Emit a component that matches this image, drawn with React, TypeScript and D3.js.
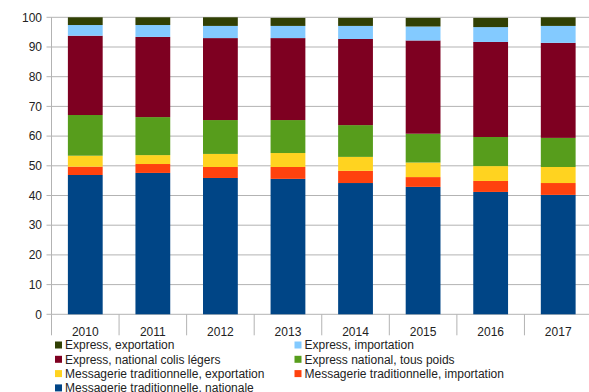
import React from "react";
import * as d3 from "d3";

const years = ["2010", "2011", "2012", "2013", "2014", "2015", "2016", "2017"];
const seriesNames = [
  "Messagerie traditionnelle, nationale",
  "Messagerie traditionnelle, importation",
  "Messagerie traditionnelle, exportation",
  "Express national, tous poids",
  "Express, national colis légers",
  "Express, importation",
  "Express, exportation",
];
const seriesColors = ["#004586", "#ff420e", "#ffd320", "#579d1c", "#7e0021", "#83caff", "#314004"];
const tradNationale = [46.9, 47.6, 45.9, 45.6, 44.2, 42.9, 41.2, 40.2];
const tradImportation = [2.8, 3.0, 3.7, 4.0, 4.1, 3.3, 3.7, 4.0];
const tradExportation = [3.7, 3.0, 4.4, 4.7, 4.7, 4.9, 5.0, 5.4];
const expressTousPoids = [13.7, 12.8, 11.4, 11.1, 10.7, 9.7, 9.8, 9.8];
const expressColisLegers = [26.7, 27.0, 27.6, 27.6, 29.0, 31.4, 32.0, 32.0];
const expressImportation = [3.6, 4.0, 4.1, 4.1, 4.4, 4.7, 5.0, 5.7];
const expressExportation = [2.6, 2.6, 2.9, 2.7, 2.7, 2.9, 3.1, 2.9];
const yTicks = [0, 10, 20, 30, 40, 50, 60, 70, 80, 90, 100];

const allSeries = [
  tradNationale,
  tradImportation,
  tradExportation,
  expressTousPoids,
  expressColisLegers,
  expressImportation,
  expressExportation,
];

// legend order (two columns)
const legendOrder = [6, 5, 4, 3, 2, 1, 0];

export default function App() {
  const W = 589, H = 392;
  const left = 51.5, right = 592, top = 17.3, bottom = 314.3;
  const x = d3.scaleBand<string>().domain(years).range([left, right]).paddingInner(0).paddingOuter(0);
  const y = d3.scaleLinear().domain([0, 100]).range([bottom, top]);
  const barW = x.bandwidth() * 0.515;

  const rows = years.map((yr, i) => {
    const o: any = { year: yr };
    allSeries.forEach((s, k) => (o["s" + k] = s[i]));
    return o;
  });
  const stack = d3.stack<any>().keys(allSeries.map((_, k) => "s" + k));
  const stacked = stack(rows);
  const font = "'Liberation Sans', Arial, sans-serif";

  return (
    <svg width={W} height={H} style={{ position: "absolute", left: 0, top: 0, background: "#fff" }}>
      {yTicks.map((t) => (
        <g key={t}>
          <line x1={left - 5} x2={right} y1={y(t)} y2={y(t)} stroke="#b3b3b3" strokeWidth={1} />
          <text x={42} y={y(t)} dy="0.35em" textAnchor="end" fontSize={12} fontFamily={font} fill="#222">
            {t}
          </text>
        </g>
      ))}
      <line x1={left} x2={left} y1={top} y2={bottom} stroke="#b3b3b3" />
      {years.map((yr, i) => (
        <line key={"b" + i} x1={x(yr)!} x2={x(yr)!} y1={bottom} y2={bottom + 21} stroke="#b3b3b3" />
      ))}
      {stacked.map((layer, k) => (
        <g key={k} fill={seriesColors[k]}>
          {layer.map((d, i) => (
            <rect
              key={i}
              x={x(years[i])! + (x.bandwidth() - barW) / 2}
              width={barW}
              y={y(d[1])}
              height={y(d[0]) - y(d[1])}
            />
          ))}
        </g>
      ))}
      {years.map((yr) => (
        <text key={yr} x={x(yr)! + x.bandwidth() / 2} y={336} textAnchor="middle" fontSize={12} fontFamily={font} fill="#222">
          {yr}
        </text>
      ))}
      {legendOrder.map((k, j) => {
        const col = j % 2;
        const row = Math.floor(j / 2);
        const lx = col === 0 ? 55 : 294.5;
        const ly = 345 + row * 14.3;
        return (
          <g key={k}>
            <rect x={lx} y={ly - 3.5} width={7} height={7} fill={seriesColors[k]} />
            <text x={lx + 10} y={ly} dy="0.35em" fontSize={12} fontFamily={font} fill="#222">
              {seriesNames[k]}
            </text>
          </g>
        );
      })}
    </svg>
  );
}
